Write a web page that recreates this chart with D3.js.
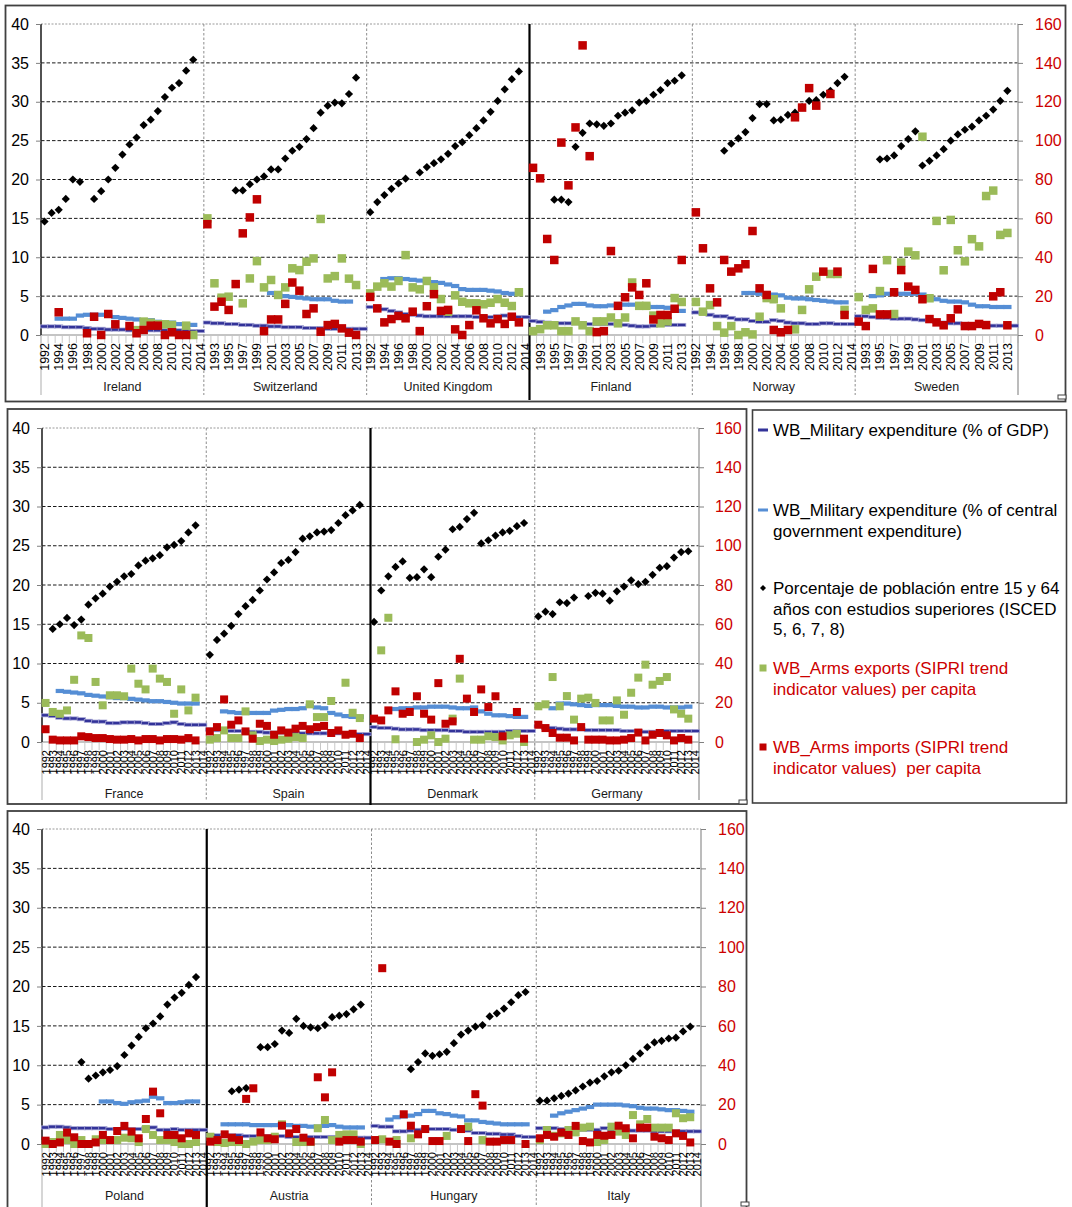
<!DOCTYPE html>
<html>
<head>
<meta charset="utf-8">
<script src="https://cdn.jsdelivr.net/npm/d3@7"></script>
<style>
  body { margin: 0; background: #fff; }
  svg { display: block; font-family: "Liberation Sans", Arial, sans-serif; }
</style>
</head>
<body>
<svg id="chart" width="1072" height="1207"></svg>
<script>
// Small-multiples scatter of five indicators per country, 1992-2014.
// Left axis: military spending (% GDP, % gov) and tertiary education share.
// Right axis (red): arms exports / imports per capita.

const years = ["1992","1993","1994","1995","1996","1997","1998","1999","2000","2001","2002","2003",
  "2004","2005","2006","2007","2008","2009","2010","2011","2012","2013","2014"];

const panel1 = ["Ireland", "Switzerland", "United Kingdom", "Finland", "Norway", "Sweden"];
const panel2 = ["France", "Spain", "Denmark", "Germany"];
const panel3 = ["Poland", "Austria", "Hungary", "Italy"];

const leftTicks = [0, 5, 10, 15, 20, 25, 30, 35, 40];
const rightTicks = [0, 20, 40, 60, 80, 100, 120, 140, 160];

const _ = null;

// WB_Military expenditure (% of GDP) — left axis
const milGdp = {
  "Ireland":        [1.1,1.1,1.1,1.0,1.0,1.0,0.9,0.8,0.8,0.7,0.7,0.7,0.6,0.6,0.6,0.6,0.6,0.6,0.6,0.6,0.6,0.5,0.5],
  "Switzerland":    [1.6,1.5,1.5,1.4,1.4,1.3,1.3,1.2,1.2,1.1,1.1,1.0,1.0,1.0,0.9,0.9,0.9,0.8,0.8,0.8,0.8,0.8,0.8],
  "United Kingdom": [3.6,3.5,3.3,3.1,2.9,2.7,2.6,2.5,2.4,2.4,2.4,2.4,2.4,2.4,2.4,2.3,2.3,2.3,2.4,2.5,2.4,2.3,2.3],
  "Finland":        [1.8,1.7,1.6,1.5,1.5,1.5,1.5,1.5,1.4,1.4,1.4,1.4,1.4,1.3,1.2,1.1,1.1,1.2,1.3,1.3,1.3,1.3,_],
  "Norway":         [2.9,2.8,2.6,2.4,2.4,2.2,2.0,2.0,1.8,1.7,1.7,1.9,1.8,1.6,1.5,1.5,1.4,1.4,1.5,1.5,1.4,1.4,1.4],
  "Sweden":         [2.4,2.4,2.3,2.2,2.2,2.1,2.1,2.1,2.0,1.9,1.8,1.7,1.6,1.5,1.5,1.4,1.4,1.3,1.2,1.2,1.2,1.2,1.2],
  "France":         [3.4,3.3,3.1,3.0,3.0,2.9,2.7,2.6,2.6,2.4,2.4,2.5,2.5,2.5,2.4,2.3,2.3,2.4,2.5,2.3,2.2,2.2,2.2],
  "Spain":          [1.6,1.5,1.5,1.4,1.4,1.3,1.3,1.3,1.2,1.2,1.2,1.2,1.1,1.1,1.1,1.1,1.1,1.2,1.1,1.1,1.0,1.0,1.0],
  "Denmark":        [1.9,1.8,1.8,1.7,1.6,1.6,1.6,1.5,1.5,1.5,1.5,1.4,1.4,1.3,1.3,1.3,1.3,1.3,1.3,1.4,1.4,1.4,1.4],
  "Germany":        [2.0,1.8,1.8,1.7,1.6,1.6,1.6,1.5,1.5,1.5,1.5,1.5,1.4,1.4,1.4,1.3,1.3,1.3,1.4,1.4,1.4,1.4,1.4],
  "Poland":         [2.1,2.2,2.2,2.1,2.0,2.0,2.0,2.0,2.0,1.9,1.9,1.9,1.9,1.9,2.0,2.1,1.8,1.8,1.9,1.8,1.8,1.8,1.8],
  "Austria":        [1.1,1.1,1.1,1.1,1.1,1.0,1.0,1.0,1.0,1.0,1.0,0.9,0.9,0.9,0.9,0.9,0.9,0.9,0.8,0.8,0.8,0.8,0.8],
  "Hungary":        [2.3,2.2,2.2,1.6,1.6,1.7,1.8,1.9,1.9,1.9,1.9,1.8,1.8,1.7,1.4,1.4,1.3,1.3,1.2,1.2,1.0,0.9,0.9],
  "Italy":          [2.0,2.0,2.0,1.9,1.9,1.8,1.8,1.8,1.8,2.0,1.8,1.8,1.8,1.7,1.7,1.7,1.6,1.6,1.6,1.6,1.6,1.6,1.6],
};

// WB_Military expenditure (% of central government expenditure) — left axis
const milGov = {
  "Ireland":        [_,_,2.1,2.1,2.1,2.5,2.6,2.6,2.6,2.5,2.3,2.2,2.1,2.0,1.9,1.9,1.7,1.6,1.6,1.4,1.3,1.3,_],
  "Switzerland":    [_,_,_,_,_,_,_,_,_,5.4,5.2,5.0,4.9,4.8,4.7,4.6,4.6,4.6,4.4,4.3,4.3,_,_],
  "United Kingdom": [_,_,7.2,7.3,7.3,7.2,7.1,7.0,6.9,6.8,6.7,6.5,6.3,5.9,5.8,5.8,5.8,5.7,5.6,5.4,5.3,_,_],
  "Finland":        [_,_,3.0,3.2,3.6,3.8,4.0,4.0,3.8,3.7,3.7,3.8,3.9,3.9,3.9,3.9,3.8,3.6,3.6,3.5,3.2,3.1,_],
  "Norway":         [_,_,_,_,_,_,_,5.4,5.4,5.3,5.3,5.2,5.1,4.8,4.7,4.7,4.6,4.5,4.4,4.3,4.2,4.2,_],
  "Sweden":         [_,_,5.0,5.1,5.3,5.3,5.3,5.3,5.3,5.2,4.8,4.6,4.4,4.3,4.3,4.2,3.9,3.7,3.7,3.6,3.6,3.6,_],
  "France":         [_,_,6.5,6.4,6.3,6.2,6.0,5.9,5.8,5.7,5.6,5.6,5.5,5.4,5.3,5.2,5.2,5.1,5.0,4.9,4.9,4.9,_],
  "Spain":          [_,_,3.9,3.8,3.7,3.7,3.7,3.7,3.7,4.0,4.1,4.2,4.2,4.3,4.6,4.4,4.3,3.7,3.5,3.3,3.2,3.2,_],
  "Denmark":        [_,_,_,4.2,4.3,4.3,4.4,4.4,4.5,4.5,4.5,4.4,4.3,4.3,4.4,3.9,3.6,3.4,3.4,3.3,3.2,3.2,_],
  "Germany":        [_,_,4.3,4.9,4.9,4.8,4.7,4.6,4.7,4.7,4.7,4.6,4.5,4.5,4.4,4.4,4.5,4.5,4.4,4.4,4.4,4.5,_],
  "Poland":         [_,_,_,_,_,_,_,_,5.4,5.4,5.2,5.1,5.3,5.4,5.5,6.0,5.8,5.2,5.2,5.3,5.4,5.4,_],
  "Austria":        [_,_,2.5,2.5,2.5,2.5,2.4,2.4,2.4,2.4,2.5,2.4,2.3,2.3,2.2,2.2,2.3,2.4,2.2,2.1,2.1,2.1,_],
  "Hungary":        [_,_,3.1,3.4,3.5,3.6,3.8,4.2,4.2,3.9,3.8,3.6,3.5,3.0,3.0,2.8,2.7,2.6,2.5,2.5,2.5,2.5,_],
  "Italy":          [_,_,3.6,3.9,4.1,4.3,4.5,4.7,5.0,5.0,5.0,5.0,4.9,4.8,4.6,4.5,4.5,4.4,4.3,4.3,4.2,4.1,_],
};

// Porcentaje de población 15-64 con estudios superiores — left axis
const tertiary = {
  "Ireland":        [14.6,15.7,16.1,17.5,20.0,19.7,_,17.5,18.5,20.0,21.5,23.2,24.5,25.4,27.0,27.7,28.8,30.6,31.8,32.4,34.0,35.4,_],
  "Switzerland":    [_,_,_,_,18.6,18.6,19.4,20.0,20.4,21.3,21.3,22.7,23.7,24.2,25.2,26.6,28.6,29.5,29.9,29.8,31.0,33.1,_],
  "United Kingdom": [15.8,17.1,18.0,18.8,19.5,20.1,_,20.9,21.6,22.1,22.6,23.3,24.3,24.8,25.7,26.6,27.6,28.7,30.1,31.6,32.9,33.9,_],
  "Finland":        [_,_,_,17.4,17.4,17.1,24.2,26.0,27.2,27.1,26.9,27.2,28.2,28.6,28.9,29.9,30.1,30.9,31.5,32.4,32.7,33.4,_],
  "Norway":         [_,_,_,_,23.7,24.6,25.3,26.1,27.9,29.7,29.7,27.6,27.7,28.3,28.6,29.3,30.1,30.2,30.9,31.4,32.4,33.2,_],
  "Sweden":         [_,_,_,22.6,22.7,23.1,24.3,25.2,26.2,21.8,22.4,23.1,23.9,25.0,25.8,26.4,26.8,27.6,28.2,29.0,30.1,31.4,_],
  "France":         [_,14.4,15.0,15.8,14.9,15.6,17.5,18.3,18.9,19.8,20.4,21.1,21.4,22.5,23.1,23.4,23.8,24.8,25.1,25.6,26.7,27.6,_],
  "Spain":          [11.1,13.0,13.8,14.8,16.3,17.3,18.1,19.3,20.7,21.6,22.8,23.2,24.2,25.9,26.2,26.7,26.8,27.0,27.9,28.9,29.5,30.2,_],
  "Denmark":        [15.3,19.3,21.1,22.3,23.0,20.9,21.0,22.0,21.0,23.6,24.5,27.1,27.4,28.4,29.2,25.3,25.7,26.3,26.7,26.9,27.5,27.9,_],
  "Germany":        [16.0,16.6,16.3,17.8,17.7,18.4,_,18.6,19.0,18.9,18.0,19.2,19.8,20.6,20.1,20.4,21.3,22.2,22.4,23.5,24.2,24.3,_],
  "Poland":         [_,_,_,_,_,10.4,8.3,8.7,9.1,9.4,9.9,11.3,12.5,13.6,14.7,15.3,16.2,17.7,18.6,19.2,20.2,21.2,_],
  "Austria":        [_,_,_,6.7,6.9,7.1,_,12.3,12.3,12.7,14.4,14.1,15.9,15.0,14.8,14.7,15.1,16.1,16.3,16.5,17.1,17.7,_],
  "Hungary":        [_,_,_,_,_,9.5,10.4,11.5,11.2,11.4,11.7,12.8,13.9,14.4,14.9,15.1,16.2,16.6,17.2,18.0,18.9,19.3,_],
  "Italy":          [5.5,5.5,5.8,6.1,6.4,6.8,7.3,7.8,8.0,8.6,9.1,9.3,10.0,10.8,11.5,12.3,12.9,13.1,13.4,13.5,14.3,14.9,_],
};

// WB_Arms exports (SIPRI TIV) per capita — right axis
const armsExp = {
  "Ireland":        [_,_,_,_,_,_,_,_,_,_,_,_,_,2.5,6.9,6.3,5.5,5.5,5.1,_,4.8,0,_],
  "Switzerland":    [60,26.6,19.2,19.7,_,16.3,29.1,38,24.5,28.3,20.6,24.5,34.3,33.4,37.7,39.4,59.7,29.1,30.3,39.4,29,25.7,_],
  "United Kingdom": [21.4,24.9,26.6,24.9,27.8,41.1,24.5,23.5,27.8,24.5,18.5,12,20.4,17.1,16.3,16.3,15.8,16.6,18.5,16.6,14.9,22,_],
  "Finland":        [2,3,5,5,2,2,7,5,2,7,7,9,6,9,27,15,15,10,6,7,19,17,_],
  "Norway":         [17,12,15.4,4.6,1.2,4.6,0,1.4,0.3,9.4,19,18.4,13.7,_,2.9,12.9,23.5,30,_,31.4,31.4,12.9,_],
  "Sweden":         [19.5,12.9,13.7,22.6,38.5,10.8,37.3,42.9,41,102,18.9,58.7,33.3,59.2,43.6,37.9,49.3,45.6,71.5,74.3,51.5,52.5,_],
  "France":         [19.9,15.3,14.4,16.1,31.7,54.3,53,30.6,18.7,23.8,23.8,23.3,37.4,29.7,26.8,37.4,32.3,30.6,14.4,26.8,16.1,22.6,_],
  "Spain":          [1.2,2,5.9,2,2,15.6,3.4,0.5,1.2,0.5,1.2,1.7,2.5,2,19.2,12.7,12.7,20.9,_,30.2,14.9,12.2,_],
  "Denmark":        [_,46.7,63.3,1.4,_,_,0,1.2,3.4,0,1.7,11.9,32.3,_,1.2,1.2,2.9,2.5,0.8,3.4,4.2,0,_],
  "Germany":        [18.2,19.2,33.1,18.2,23.4,11.4,22.1,22.6,19.9,11,11,21.2,13.9,25.1,32.8,39.4,29.2,31.1,33.1,16.6,14.4,11.9,_],
  "Poland":         [0,1,4.6,2,0,2,0,2.4,2,2,2,3.2,2.9,1,7.6,4.6,2,2,1,0,0,1,_],
  "Austria":        [3.7,1,0.5,1,1,0,1.2,2,2,3.7,10,_,1,1,1,8,12.2,2,4.6,4.9,4.9,0,_],
  "Hungary":        [2,2.4,_,2,_,2.9,_,_,_,_,4.1,_,_,8.8,_,2,_,_,_,_,_,_,_],
  "Italy":          [2,7.1,4.2,5.4,7.1,5.9,8.3,8.8,1,2,8.8,6.3,4.6,14.7,10,12.7,8.3,8.3,8.3,15.6,13.1,13.6,_],
};

// WB_Arms imports (SIPRI TIV) per capita — right axis
const armsImp = {
  "Ireland":        [_,_,11.7,_,_,_,0.9,9.4,0,10.8,5.5,_,4.6,0.9,2.6,4.8,4.8,0,1.4,0,0,_,_],
  "Switzerland":    [57,14.6,17.1,12.9,26.2,52.3,60.5,69.8,2,8,8,16,27,22.8,10.8,13.7,1.7,5.1,5.7,3.4,1.2,0,_],
  "United Kingdom": [19.6,13.7,6.5,8.2,9.8,8.6,12,2,14.8,21,12.4,12.9,2.9,0,5.1,12.7,8.6,6,8.2,5.7,9.4,6.5,_],
  "Finland":        [86,80.6,49.4,38.6,99,77,106.8,149,92,1.5,2,43.2,15,19.4,24.5,20.6,26.6,8,10.3,10.3,13.5,38.6,_],
  "Norway":         [63.1,44.6,24,16.8,38.6,32.6,34.3,36.4,53.5,24,20.6,2.6,1.4,2.6,112,117,127,118,32.6,124,32.6,10.3,_],
  "Sweden":         [6.9,4.6,34,10.6,10.6,22,33.4,24.9,23.2,18.4,8.2,6.5,5,8.6,13.2,4.6,4.6,5.7,5.1,19.9,22,5,_],
  "France":         [6.5,1.2,0.8,0.8,0.8,2.9,2.5,2,2,1.5,1.2,1.2,1.5,0.8,1.5,1.5,0.8,1.5,1.5,1.2,2,0.8,_],
  "Spain":          [5.4,7.6,21.7,8.8,11,5.4,1.7,9.3,8.2,3.7,5.9,4.8,6.8,8.2,6.5,7.6,8.2,4.6,5.9,3.7,4.2,2,_],
  "Denmark":        [11.9,11,16.1,25.8,14.4,15.3,23.3,14.4,11.4,30,9.3,10.5,42.4,22.1,15.3,26.8,17.8,23.3,2.9,_,15.3,1.7,_],
  "Germany":        [8.8,7.1,4.6,2.2,2.2,0.8,7.6,1.2,1.2,1.2,0.8,0.8,1.2,2,4.8,0.8,3.7,4.6,3.4,0.8,2,1.2,_],
  "Poland":         [1.7,0,0.8,5.8,3.4,0,0,0.8,4.6,2,6.6,9.2,6.3,2.9,12.7,26.6,15.6,4.6,4.6,2.9,5.4,4.6,_],
  "Austria":        [1.2,2,4.9,3.2,2,22.9,28.3,5.9,2.9,2.4,9.3,5.4,7.6,3.2,1.2,33.9,23.7,36.4,1.2,2,2,1.2,_],
  "Hungary":        [2,89.3,1.2,0,15.1,9.3,4.9,7.6,1.5,1.5,_,_,7.6,1.5,25.3,19.5,1.2,1.2,2,2,_,0,_],
  "Italy":          [2.9,4.6,3.7,5.8,4.6,9.2,1.5,0.8,4.6,4.2,4.6,9.3,8,2.9,8.3,8.3,3.7,2.9,2,5.4,4.1,0.8,_],
};

// countries whose left edge is a solid (not dashed) divider
const solidBefore = ["Finland", "Denmark", "Austria"];

const legendItems = [
  { key: "gdp", lines: ["WB_Military expenditure (% of GDP)"] },
  { key: "gov", lines: ["WB_Military expenditure (% of central", "government expenditure)"] },
  { key: "edu", lines: ["Porcentaje de población entre 15 y 64", "años con estudios superiores (ISCED", "5, 6, 7, 8)"] },
  { key: "exp", lines: ["WB_Arms exports (SIPRI trend", "indicator values) per capita"] },
  { key: "imp", lines: ["WB_Arms imports (SIPRI trend", "indicator values)  per capita"] },
];

const COL = { gdp: "#333399", gov: "#558ed5", edu: "#000000", exp: "#9bbb59", imp: "#c00000" };
const RED = "#cc0000";

const svg = d3.select("#chart");

// ---- layout of the three chart boxes ----
const panels = [
  { countries: panel1, frame: [5.5, 5.5, 1060, 396], x0: 41, x1: 1018, yTop: 24, yBot: 335, bottom: 395,
    every: 2, yearFont: 12.5, nameY: 391, rPad: 12, sq: 8.5, handle: [1058, 395] },
  { countries: panel2, frame: [7.5, 409, 739, 395], x0: 42, x1: 699, yTop: 428, yBot: 742, bottom: 800,
    every: 1, yearFont: 11, nameY: 798, rPad: 11, sq: 8, handle: [739, 800] },
  { countries: panel3, frame: [7.5, 811, 739, 420], x0: 42, x1: 701, yTop: 829, yBot: 1144, bottom: 1207,
    every: 1, yearFont: 11, nameY: 1200, rPad: 12, sq: 8, handle: [741, 1202] },
];

panels.forEach(drawPanel);
drawLegend();

function drawPanel(P) {
  const g = svg.append("g");
  const nY = years.length;
  const N = P.countries.length * nY;

  g.append("rect").attr("x", P.frame[0]).attr("y", P.frame[1])
    .attr("width", P.frame[2]).attr("height", P.frame[3])
    .attr("fill", "#fff").attr("stroke", "#404040").attr("stroke-width", 1.8);

  const x = d3.scaleBand().domain(d3.range(N)).range([P.x0, P.x1]).padding(0);
  const bw = x.bandwidth();
  const yL = d3.scaleLinear().domain([0, 40]).range([P.yBot, P.yTop]);
  const yR = d3.scaleLinear().domain([0, 160]).range([P.yBot, P.yTop]);
  const cx = (c, i) => x(c * nY + i) + bw / 2;

  // horizontal gridlines
  g.selectAll("line.grid").data(leftTicks.filter((t) => t > 0)).join("line")
    .attr("x1", P.x0).attr("x2", P.x1)
    .attr("y1", (t) => yL(t)).attr("y2", (t) => yL(t))
    .attr("stroke", (t) => t === 40 ? "#9a9a9a" : "#1a1a1a")
    .attr("stroke-width", 1)
    .attr("stroke-dasharray", (t) => t === 40 ? "2,1.5" : "3.5,2");

  // category tick marks between years
  g.selectAll("line.ctick").data(d3.range(N + 1)).join("line")
    .attr("x1", (k) => P.x0 + k * bw).attr("x2", (k) => P.x0 + k * bw)
    .attr("y1", P.yBot).attr("y2", P.yBot + 8)
    .attr("stroke", "#c8c8c8").attr("stroke-width", 1);

  // zero line (category axis)
  g.append("line").attr("x1", P.x0).attr("x2", P.x1)
    .attr("y1", yL(0)).attr("y2", yL(0))
    .attr("stroke", "#c4c4c4").attr("stroke-width", 2);

  // right edge
  g.append("line").attr("x1", P.x1).attr("x2", P.x1)
    .attr("y1", P.yTop).attr("y2", P.bottom)
    .attr("stroke", "#a6a6a6").attr("stroke-width", 1.5);
  // left, below the axis
  g.append("line").attr("x1", P.x0).attr("x2", P.x0)
    .attr("y1", P.yBot).attr("y2", P.bottom)
    .attr("stroke", "#c8c8c8").attr("stroke-width", 1.5);

  // country dividers
  P.countries.forEach((name, c) => {
    if (c === 0) return;
    const xd = x(c * nY);
    const solid = solidBefore.includes(name);
    g.append("line").attr("x1", xd).attr("x2", xd)
      .attr("y1", P.yTop).attr("y2", P.bottom + (solid ? 5 : 0))
      .attr("stroke", solid ? "#000" : "#8c8c8c")
      .attr("stroke-width", solid ? 2.2 : 1)
      .attr("stroke-dasharray", solid ? null : "2.5,2");
  });

  // value axis line
  g.append("line").attr("x1", P.x0).attr("x2", P.x0)
    .attr("y1", P.yTop).attr("y2", P.yBot)
    .attr("stroke", "#262626").attr("stroke-width", 1.6);

  // left axis
  const axL = g.append("g").attr("transform", `translate(${P.x0},0)`)
    .call(d3.axisLeft(yL).tickValues(leftTicks).tickSize(5).tickPadding(7));
  axL.select(".domain").remove();
  axL.selectAll(".tick line").attr("stroke", "#808080");
  axL.selectAll("text").attr("font-size", 16).attr("fill", "#000")
    .attr("font-family", "Liberation Sans, Arial, sans-serif");

  // right axis
  const axR = g.append("g").attr("transform", `translate(${P.x1},0)`)
    .call(d3.axisRight(yR).tickValues(rightTicks).tickSize(5).tickPadding(P.rPad));
  axR.select(".domain").remove();
  axR.selectAll(".tick line").attr("stroke", "#808080");
  axR.selectAll("text").attr("font-size", 16).attr("fill", RED)
    .attr("font-family", "Liberation Sans, Arial, sans-serif");

  // year labels (rotated)
  const shown = d3.range(N).filter((k) => k % P.every === 0);
  const axB = g.append("g").attr("transform", `translate(0,${P.yBot})`)
    .call(d3.axisBottom(x).tickValues(shown).tickSize(0).tickFormat((k) => years[k % nY]));
  axB.select(".domain").remove();
  axB.selectAll("text")
    .attr("font-size", P.yearFont).attr("fill", "#000")
    .attr("font-family", "Liberation Sans, Arial, sans-serif")
    .attr("text-anchor", "end")
    .attr("transform", "rotate(-90)")
    .attr("x", -8).attr("y", 0).attr("dy", "0.36em");

  // country names
  g.selectAll("text.country").data(P.countries).join("text")
    .attr("x", (d, c) => x(c * nY) + (bw * nY) / 2)
    .attr("y", P.nameY)
    .attr("text-anchor", "middle").attr("font-size", 12.5).attr("fill", "#1a1a1a")
    .text((d) => d);

  // little resize handle on the frame corner
  g.append("rect").attr("x", P.handle[0]).attr("y", P.handle[1]).attr("width", 8).attr("height", 4)
    .attr("fill", "#fff").attr("stroke", "#404040").attr("stroke-width", 1);

  // flatten a series into points
  const pts = (src, scale) => P.countries.flatMap((name, c) =>
    src[name].map((v, i) => ({ v, x: cx(c, i), y: v == null ? 0 : scale(v) }))
      .filter((p) => p.v != null));

  const dashW = bw + 1.2;
  // % GDP dashes (dark blue, pale edge)
  g.append("g").selectAll("rect").data(pts(milGdp, yL)).join("rect")
    .attr("x", (p) => p.x - dashW / 2).attr("y", (p) => p.y - 1.6)
    .attr("width", dashW).attr("height", 3.2)
    .attr("fill", COL.gdp).attr("stroke", "#a9a9d6").attr("stroke-width", 0.7);
  // % central gov dashes (light blue)
  g.append("g").selectAll("rect").data(pts(milGov, yL)).join("rect")
    .attr("x", (p) => p.x - dashW / 2).attr("y", (p) => p.y - 2.1)
    .attr("width", dashW).attr("height", 4.2)
    .attr("fill", COL.gov);
  // education diamonds
  const r = 4.1;
  g.append("g").selectAll("path").data(pts(tertiary, yL)).join("path")
    .attr("d", (p) => `M${p.x},${p.y - r}L${p.x + r},${p.y}L${p.x},${p.y + r}L${p.x - r},${p.y}Z`)
    .attr("fill", COL.edu);
  // exports / imports squares
  [["exp", armsExp], ["imp", armsImp]].forEach(([k, src]) => {
    g.append("g").selectAll("rect").data(pts(src, yR)).join("rect")
      .attr("x", (p) => p.x - P.sq / 2).attr("y", (p) => p.y - P.sq / 2)
      .attr("width", P.sq).attr("height", P.sq)
      .attr("fill", COL[k]);
  });
}

function drawLegend() {
  const g = svg.append("g");
  g.append("rect").attr("x", 752.5).attr("y", 410).attr("width", 314).attr("height", 393)
    .attr("fill", "#fff").attr("stroke", "#404040").attr("stroke-width", 1.6);
  const tops = [430, 510, 588, 668, 747];
  const lh = 20.5;
  legendItems.forEach((it, k) => {
    const y0 = tops[k];
    const mx = 763;
    if (it.key === "gdp" || it.key === "gov") {
      g.append("rect").attr("x", mx - 5).attr("y", y0 - 1.5).attr("width", 10).attr("height", 3)
        .attr("fill", COL[it.key]);
    } else if (it.key === "edu") {
      g.append("path").attr("d", `M${mx},${y0 - 3}L${mx + 3},${y0}L${mx},${y0 + 3}L${mx - 3},${y0}Z`)
        .attr("fill", COL.edu);
    } else {
      g.append("rect").attr("x", mx - 3.5).attr("y", y0 - 3.5).attr("width", 7).attr("height", 7)
        .attr("fill", COL[it.key]);
    }
    const red = it.key === "exp" || it.key === "imp";
    it.lines.forEach((ln, j) => {
      g.append("text").attr("x", 773).attr("y", y0 + j * lh).attr("dy", "0.36em")
        .attr("font-size", 17).attr("fill", red ? RED : "#000")
        .style("white-space", "pre").text(ln);
    });
  });
}
</script>
</body>
</html>
